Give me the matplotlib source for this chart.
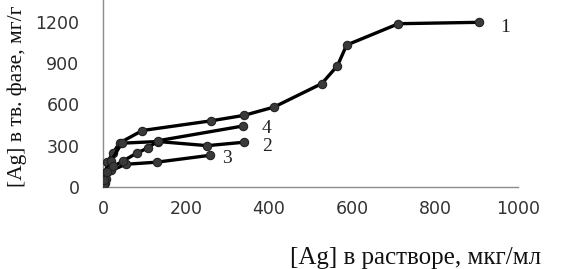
import matplotlib
matplotlib.use("Agg")
import matplotlib.pyplot as plt

# Adsorption isotherms
x1 = [5, 7, 10, 25, 40, 95, 260, 340, 412, 527, 565, 587, 712, 905]
y1 = [30, 100, 180, 250, 320, 410, 480, 520, 580, 750, 880, 1030, 1185, 1195]
x2 = [3, 8, 20, 45, 133, 251, 340]
y2 = [40, 110, 190, 318, 330, 300, 325]
x3 = [3, 8, 20, 55, 129, 258]
y3 = [20, 60, 120, 165, 180, 230]
x4 = [3, 10, 25, 49, 81, 109, 133, 338]
y4 = [50, 110, 150, 190, 245, 285, 336, 443]

series = [(x1, y1), (x2, y2), (x3, y3), (x4, y4)]
curve_labels = ["1", "2", "3", "4"]
label_pos = [(970, 1160), (395, 297), (299, 210), (395, 428)]

xticks = [0, 200, 400, 600, 800, 1000]
yticks = [0, 300, 600, 900, 1200]

W, H = 561, 269
fig = plt.figure(figsize=(W / 100, H / 100), dpi=100)
ax = fig.add_axes([103 / W, 1 - 187 / H, (518 - 103) / W, 187 / H])

for xs, ys in series:
    ax.plot(xs, ys, color="black", lw=2.4, marker="o", ms=6,
            mfc="#3a3a3a", mec="#222222", mew=0.8, zorder=3)

for lab, (lx, ly) in zip(curve_labels, label_pos):
    ax.text(lx, ly, lab, family="Liberation Serif", fontsize=14,
            ha="center", va="center", color="#222222")

ax.set_xlim(0, 1000)
ax.set_ylim(0, 1357)
ax.set_xticks(xticks)
ax.set_yticks(yticks)
ax.tick_params(length=0, labelsize=12.5, colors="#333333")
ax.tick_params(axis="y", pad=17)
ax.tick_params(axis="x", pad=9)
for lbl in ax.get_xticklabels() + ax.get_yticklabels():
    lbl.set_family("DejaVu Sans")
for s in ["top", "right"]:
    ax.spines[s].set_visible(False)
for s in ["left", "bottom"]:
    ax.spines[s].set_color("#8c8c8c")
    ax.spines[s].set_linewidth(1.0)

fig.text(290 / W, 1 - 258 / H, "[Ag] в растворе, мкг/мл",
         family="Liberation Serif", fontsize=18, ha="left", va="center",
         color="#111111")
fig.text(17 / W, 1 - 187 / H, "[Ag] в тв. фазе, мг/г",
         family="Liberation Serif", fontsize=15.5, rotation=90,
         ha="center", va="bottom", color="#111111")

fig.savefig("out.png", dpi=100)
